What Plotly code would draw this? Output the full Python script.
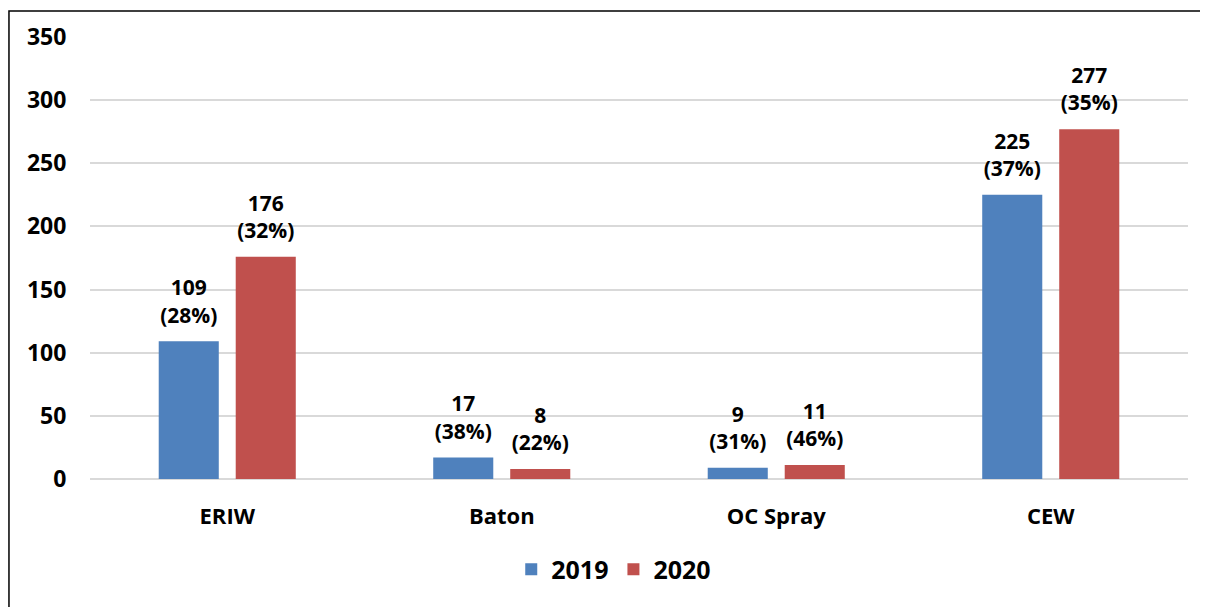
import plotly.graph_objects as go

categories = ['ERIW', 'Baton', 'OC Spray', 'CEW']
values_2019 = [109, 17, 9, 225]
pct_2019 = ['28%', '38%', '31%', '37%']
values_2020 = [176, 8, 11, 277]
pct_2020 = ['32%', '22%', '46%', '35%']
y_ticks = [0, 50, 100, 150, 200, 250, 300, 350]

FONT = 'Open Sans'

series = [
    ('2019', values_2019, pct_2019, '#4F81BD'),
    ('2020', values_2020, pct_2020, '#C0504D'),
]

fig = go.Figure()

for name, vals, pcts, color in series:
    fig.add_trace(go.Bar(
        x=categories,
        y=vals,
        name=name,
        offsetgroup=name,
        marker=dict(color=color, line=dict(width=0)),
    ))

# data labels, placed a bit above the bars
for name, vals, pcts, color in series:
    fig.add_trace(go.Scatter(
        x=categories,
        y=vals,
        offsetgroup=name,
        mode='markers+text',
        marker=dict(size=20, color='rgba(0,0,0,0)'),
        text=[f'{v}<br>({p})' for v, p in zip(vals, pcts)],
        textposition='top center',
        textfont=dict(family=FONT, size=21, color='black', weight='bold'),
        showlegend=False,
        hoverinfo='skip',
        cliponaxis=False
    ))

fig.update_layout(
    width=1208,
    height=607,
    margin=dict(l=82, r=28, t=27, b=136),
    paper_bgcolor='white',
    plot_bgcolor='white',
    barmode='group',
    scattermode='group',
    bargap=0.439,
    scattergap=0.439,
    bargroupgap=0.22,
    font=dict(family=FONT, color='black'),
    xaxis=dict(
        showgrid=False,
        showline=False,
        ticks='outside',
        ticklen=18,
        tickcolor='rgba(0,0,0,0)',
        tickfont=dict(family=FONT, size=22, color='black', weight='bold')
    ),
    yaxis=dict(
        range=[0, 350],
        tickvals=y_ticks,
        showgrid=True,
        gridcolor='#D9D9D9',
        gridwidth=2,
        zeroline=True,
        zerolinecolor='#D9D9D9',
        zerolinewidth=2,
        ticks='outside',
        ticklen=18,
        tickcolor='rgba(0,0,0,0)',
        tickfont=dict(family=FONT, size=23, color='black', weight='bold')
    ),
    legend=dict(
        orientation='h',
        x=0.477,
        xanchor='center',
        y=-0.205,
        yanchor='middle',
        font=dict(family=FONT, size=25, color='black', weight='bold'),
        itemwidth=30,
        traceorder='normal'
    ),
    showlegend=True,
    shapes=[dict(
        type='rect', xref='paper', yref='paper',
        x0=-0.0738, x1=1.05, y0=-0.5, y1=1.0586,
        line=dict(color='black', width=1.5),
        layer='below'
    )]
)

fig.write_html('out.html')
